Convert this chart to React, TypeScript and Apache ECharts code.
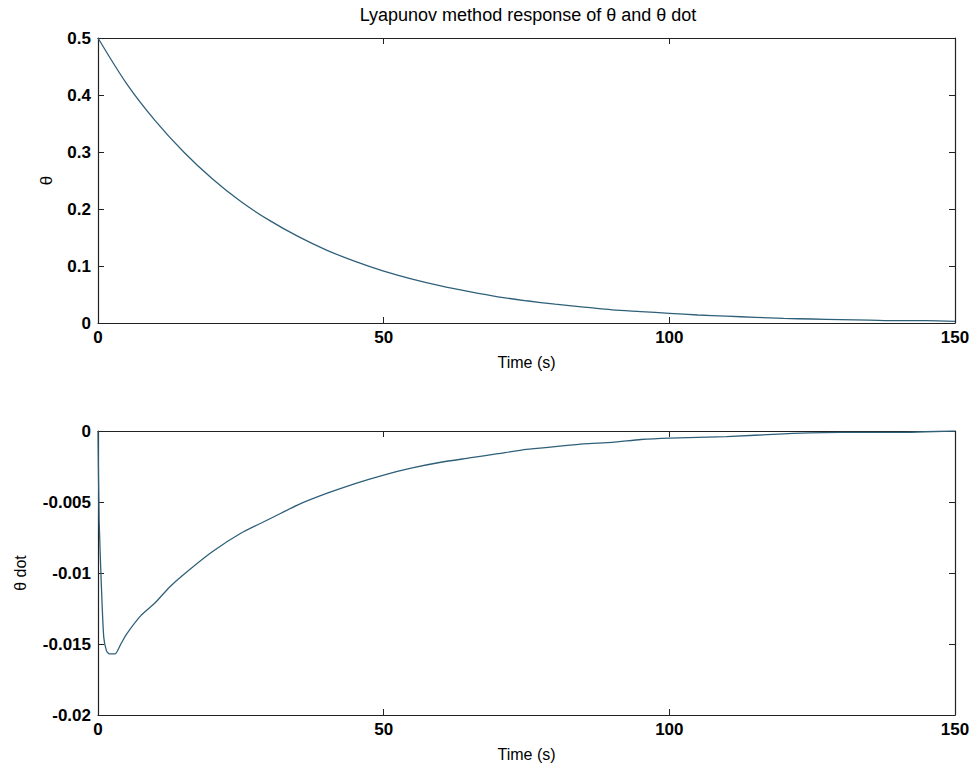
import React, { useEffect, useRef } from "react";
import * as echarts from "echarts";

// θ response (rad) sampled every 5 s
const thetaTime = [0, 5, 10, 15, 20, 25, 30, 35, 40, 45, 50, 55, 60, 65, 70, 75, 80, 85, 90, 95, 100, 105, 110, 115, 120, 125, 130, 135, 140, 145, 150];
const thetaValues = [0.5, 0.42, 0.355, 0.3, 0.253, 0.213, 0.18, 0.152, 0.128, 0.108, 0.091, 0.077, 0.065, 0.055, 0.046, 0.039, 0.033, 0.028, 0.023, 0.02, 0.017, 0.014, 0.012, 0.01, 0.008, 0.007, 0.006, 0.005, 0.004, 0.004, 0.003];

// θ dot response (rad/s)
const thetaDotTime = [0, 0.2, 0.6, 1, 1.5, 2, 3, 4, 5, 7.5, 10, 12.5, 15, 20, 25, 30, 35, 40, 45, 50, 55, 60, 65, 70, 75, 80, 85, 90, 95, 100, 110, 120, 130, 140, 150];
const thetaDotValues = [0, -0.0063, -0.011, -0.0145, -0.0155, -0.0157, -0.0157, -0.015, -0.0143, -0.013, -0.0121, -0.011, -0.0101, -0.0085, -0.0072, -0.0062, -0.0052, -0.0044, -0.0037, -0.0031, -0.0026, -0.0022, -0.0019, -0.0016, -0.0013, -0.0011, -0.0009, -0.0008, -0.0006, -0.0005, -0.0004, -0.0002, -0.0001, -0.0001, 0];

const xTicks = [0, 50, 100, 150];
const thetaTicks = [0, 0.1, 0.2, 0.3, 0.4, 0.5];
const thetaDotTicks = [-0.02, -0.015, -0.01, -0.005, 0];

const titleText = "Lyapunov method response of θ and θ dot";

const FONT = "Liberation Sans, Arial, sans-serif";
const LINE_COLOR = "#2f6079";

export default function App() {
  const ref = useRef<HTMLDivElement>(null);

  useEffect(() => {
    if (!ref.current) return;
    const chart = echarts.init(ref.current, undefined, { renderer: "svg" });

    const axisLine = { show: true, onZero: false, lineStyle: { color: "#222", width: 1.2 } };
    const tick = { show: true, inside: true, length: 6, lineStyle: { color: "#222" } };
    const labelStyle = { color: "#000", fontSize: 17, fontFamily: FONT, fontWeight: "bold" as any };
    const nameStyle = { color: "#000", fontSize: 16, fontFamily: FONT };

    const xMain = (grid: number) => ({
      type: "value",
      gridIndex: grid,
      min: xTicks[0],
      max: xTicks[xTicks.length - 1],
      interval: 50,
      name: "Time (s)",
      nameLocation: "middle",
      nameGap: 31,
      nameTextStyle: nameStyle,
      axisLine,
      axisTick: tick,
      axisLabel: { ...labelStyle, margin: 6, showMinLabel: true, showMaxLabel: true },
      splitLine: { show: false },
    });
    const xMirror = (grid: number) => ({
      type: "value",
      gridIndex: grid,
      position: "top",
      min: xTicks[0],
      max: xTicks[xTicks.length - 1],
      interval: 50,
      axisLine,
      axisTick: tick,
      axisLabel: { show: false },
      splitLine: { show: false },
    });
    const yMirror = (grid: number, ticks: number[], interval: number) => ({
      type: "value",
      gridIndex: grid,
      position: "right",
      min: ticks[0],
      max: ticks[ticks.length - 1],
      interval,
      axisLine,
      axisTick: tick,
      axisLabel: { show: false },
      splitLine: { show: false },
    });

    chart.setOption({
      animation: false,
      backgroundColor: "#fff",
      graphic: [
        {
          type: "text",
          x: 528,
          y: 15,
          style: {
            text: titleText,
            fill: "#000",
            fontSize: 18,
            fontFamily: FONT,
            align: "center",
            verticalAlign: "middle",
          },
        },
      ],
      grid: [
        { left: 98, top: 38, width: 857, height: 285, outerBoundsMode: "none", containLabel: false },
        { left: 98, top: 431, width: 857, height: 284, outerBoundsMode: "none", containLabel: false },
      ],
      xAxis: [xMain(0), xMirror(0), xMain(1), xMirror(1)],
      yAxis: [
        {
          type: "value",
          gridIndex: 0,
          min: thetaTicks[0],
          max: thetaTicks[thetaTicks.length - 1],
          interval: 0.1,
          name: "θ",
          nameLocation: "middle",
          nameGap: 43,
          nameRotate: 90,
          nameTextStyle: { ...nameStyle, fontSize: 17 },
          axisLine,
          axisTick: tick,
          axisLabel: { ...labelStyle, margin: 7, formatter: (v: number) => String(+v.toFixed(1)) },
          splitLine: { show: false },
        },
        yMirror(0, thetaTicks, 0.1),
        {
          type: "value",
          gridIndex: 1,
          min: thetaDotTicks[0],
          max: thetaDotTicks[thetaDotTicks.length - 1],
          interval: 0.005,
          name: "θ dot",
          nameLocation: "middle",
          nameGap: 70,
          nameRotate: 90,
          nameTextStyle: nameStyle,
          axisLine,
          axisTick: tick,
          axisLabel: { ...labelStyle, margin: 7, formatter: (v: number) => String(+v.toFixed(3)) },
          splitLine: { show: false },
        },
        yMirror(1, thetaDotTicks, 0.005),
      ],
      series: [
        {
          type: "line",
          xAxisIndex: 0,
          yAxisIndex: 0,
          data: thetaTime.map((t, i) => [t, thetaValues[i]]),
          showSymbol: false,
          smooth: 0.3,
          lineStyle: { color: LINE_COLOR, width: 1.3 },
        },
        {
          type: "line",
          xAxisIndex: 2,
          yAxisIndex: 2,
          data: thetaDotTime.map((t, i) => [t, thetaDotValues[i]]),
          showSymbol: false,
          smooth: 0.2,
          lineStyle: { color: LINE_COLOR, width: 1.3 },
        },
      ],
    });

    return () => chart.dispose();
  }, []);

  // Negative margins cancel the body's default 8px margin so the chart fills the page.
  return <div ref={ref} style={{ width: 977, height: 772, margin: "-8px" }} />;
}
